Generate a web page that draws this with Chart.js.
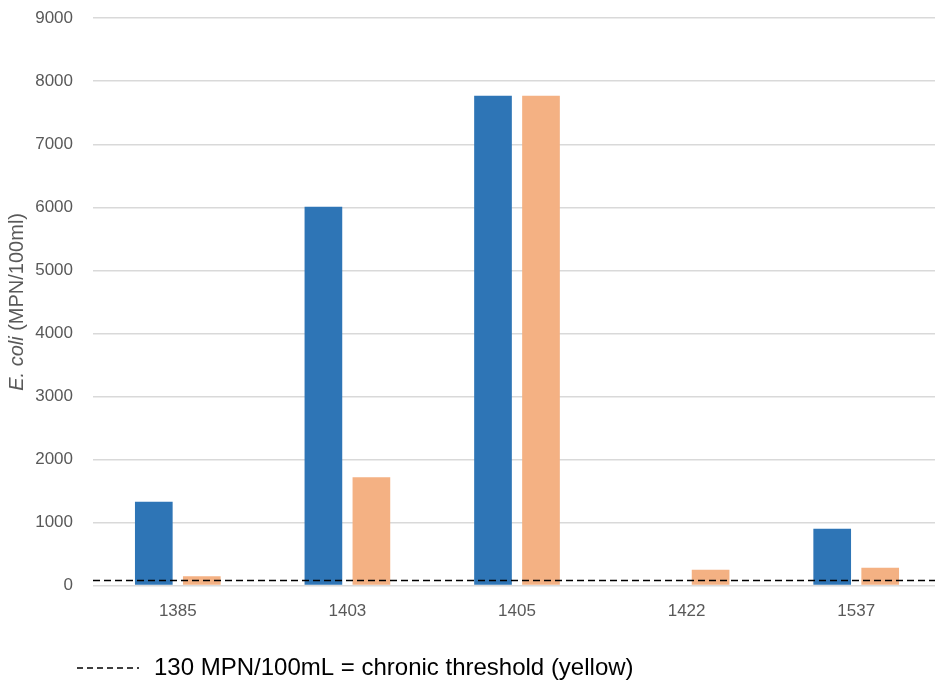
<!DOCTYPE html>
<html>
<head>
<meta charset="utf-8">
<script src="https://cdn.jsdelivr.net/npm/chart.js@4.4.1/dist/chart.umd.min.js"></script>
<style>
    html, body { margin: 0; padding: 0; background: #fff; overflow: hidden; }
    #wrap { width: 941px; height: 685px; position: relative; }
</style>
</head>
<body>
<div id="wrap"><canvas id="ecoliChart"></canvas></div>
<script>
const sites = ['1385', '1403', '1405', '1422', '1537'];
const blueValues = [1330, 6010, 7770, null, 900];
const orangeValues = [150, 1720, 7770, 250, 285];
const thresholdValue = 80;
const thresholdLabel = '130 MPN/100mL = chronic threshold (yellow)';
const yTicks = { min: 0, max: 9000, step: 1000 };

const tickColor = '#595959';
const fontFamily = '"Liberation Sans", Arial, sans-serif';

// dashed threshold across the plot, plus its legend entry under the chart
const thresholdPlugin = {
    id: 'threshold',
    afterDatasetsDraw: function (chart) {
        const ctx = chart.ctx;
        const area = chart.chartArea;
        const y = chart.scales.y.getPixelForValue(thresholdValue);
        ctx.save();
        ctx.strokeStyle = '#000000';
        ctx.lineWidth = 1.6;
        ctx.setLineDash([7, 4]);
        ctx.beginPath();
        ctx.moveTo(area.left, y);
        ctx.lineTo(area.right, y);
        ctx.stroke();
        ctx.restore();
    },
    afterDraw: function (chart) {
        const ctx = chart.ctx;
        const legendY = 668;
        ctx.save();
        ctx.strokeStyle = '#000000';
        ctx.lineWidth = 1.4;
        ctx.setLineDash([6, 4]);
        ctx.beginPath();
        ctx.moveTo(77, legendY);
        ctx.lineTo(139, legendY);
        ctx.stroke();
        ctx.fillStyle = '#000000';
        ctx.font = '24px ' + fontFamily;
        ctx.textBaseline = 'middle';
        ctx.textAlign = 'left';
        ctx.fillText(thresholdLabel, 154, legendY);
        ctx.restore();
    }
};

// y axis title has an italic part, so it is drawn by hand
const yTitlePlugin = {
    id: 'yTitle',
    afterDraw: function (chart) {
        const ctx = chart.ctx;
        const area = chart.chartArea;
        const italicPart = 'E. coli';
        const plainPart = ' (MPN/100ml)';
        const size = 20;
        ctx.save();
        ctx.translate(17, (area.top + area.bottom) / 2);
        ctx.rotate(-Math.PI / 2);
        ctx.fillStyle = tickColor;
        ctx.textBaseline = 'middle';
        ctx.textAlign = 'left';
        ctx.font = 'italic ' + size + 'px ' + fontFamily;
        const w1 = ctx.measureText(italicPart).width;
        ctx.font = size + 'px ' + fontFamily;
        const w2 = ctx.measureText(plainPart).width;
        const x = -(w1 + w2) / 2;
        ctx.font = 'italic ' + size + 'px ' + fontFamily;
        ctx.fillText(italicPart, x, 0);
        ctx.font = size + 'px ' + fontFamily;
        ctx.fillText(plainPart, x + w1, 0);
        ctx.restore();
    }
};

new Chart(document.getElementById('ecoliChart'), {
    type: 'bar',
    data: {
        labels: sites,
        datasets: [{
            label: 'Series 1',
            data: blueValues,
            backgroundColor: '#2E75B6',
            borderWidth: 0
        }, {
            label: 'Series 2',
            data: orangeValues,
            backgroundColor: '#F4B183',
            borderWidth: 0
        }]
    },
    options: {
        responsive: true,
        maintainAspectRatio: false,
        animation: false,
        categoryPercentage: 0.566,
        barPercentage: 0.785,
        layout: {
            padding: { left: 35, top: 0, right: 0, bottom: 55 }
        },
        plugins: {
            tooltip: { enabled: false },
            legend: { display: false }
        },
        scales: {
            x: {
                grid: { display: false },
                border: { display: false },
                ticks: {
                    color: tickColor,
                    padding: 8,
                    font: { family: fontFamily, size: 17 }
                }
            },
            y: {
                min: yTicks.min,
                max: yTicks.max,
                afterFit: function (scale) {
                    scale.width = 58;
                },
                ticks: {
                    stepSize: yTicks.step,
                    color: tickColor,
                    padding: 8,
                    font: { family: fontFamily, size: 17 },
                    callback: function (value) {
                        return String(value);
                    }
                },
                grid: {
                    color: '#d9d9d9',
                    lineWidth: 1.5,
                    drawTicks: true,
                    tickLength: 12,
                    tickColor: 'rgba(0,0,0,0)'
                },
                border: { display: false }
            }
        }
    },
    plugins: [thresholdPlugin, yTitlePlugin]
});
</script>
</body>
</html>
